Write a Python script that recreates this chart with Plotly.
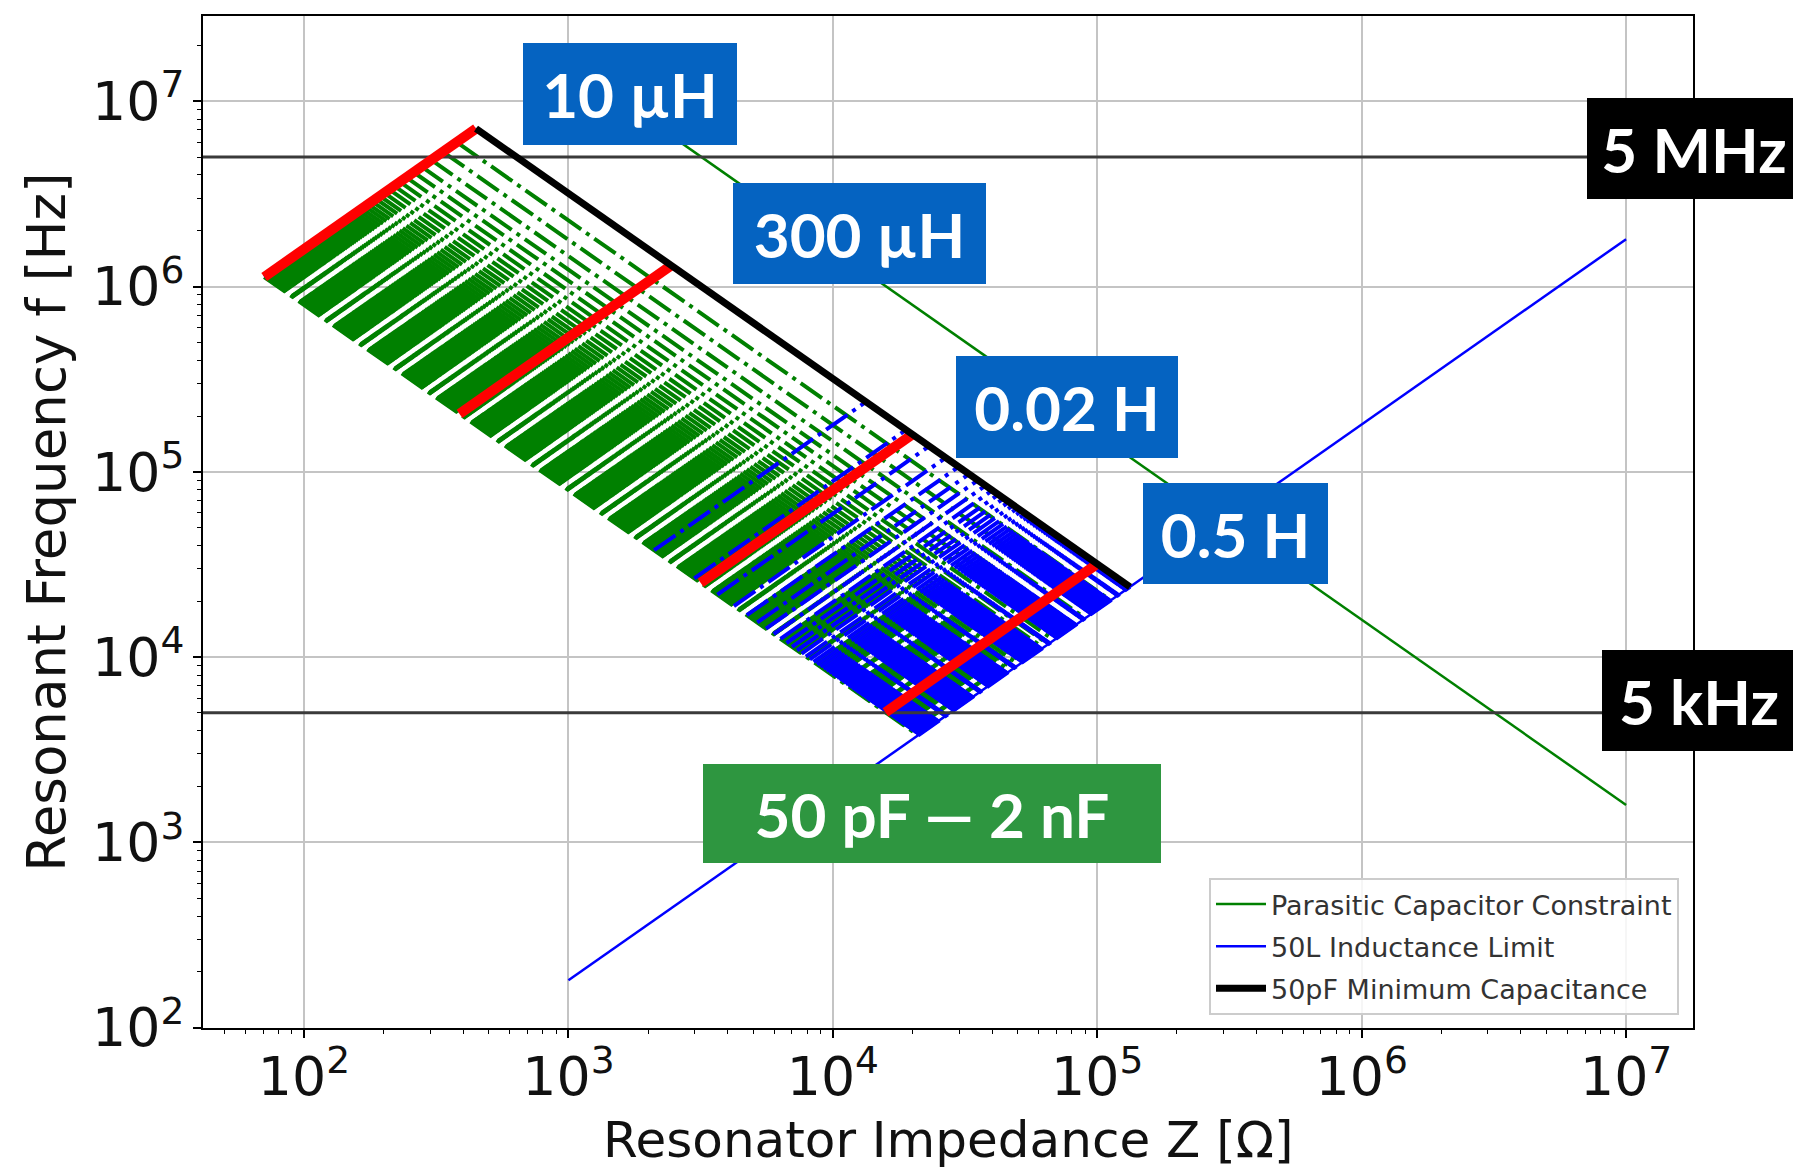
import math
import plotly.graph_objects as go

# ---------------- data ----------------
# capacitor sweep (pF), 50 pF to 2 nF
capacitance_sweep_pF = [50, 70, 89, 109, 129, 148, 168, 188, 208, 227, 247, 267, 286, 306, 326, 345,
                        365, 385, 405, 424, 444, 464, 483, 503, 523, 542, 562, 582, 602, 621, 641, 661,
                        680, 700, 720, 739, 759, 779, 798, 818, 838, 858, 877, 897, 917, 936, 956, 976,
                        995, 1015, 1035, 1055, 1074, 1094, 1114, 1133, 1153, 1173, 1192, 1212, 1232,
                        1252, 1271, 1291, 1311, 1330, 1350, 1370, 1389, 1409, 1429, 1448, 1468, 1488,
                        1508, 1527, 1547, 1567, 1586, 1606, 1626, 1645, 1665, 1685, 1705, 1724, 1744,
                        1764, 1783, 1803, 1823, 1842, 1862, 1882, 1902, 1921, 1941, 1961, 1980, 2000]
# inductor sweep (mH), 10 uH to the 50L inductance limit
inductance_sweep_mH = [0.01, 8.9, 17.9, 26.8, 35.7, 44.7, 53.6, 62.5, 71.4, 80.4, 89.3, 98.2, 107.2,
                       116.1, 125.0, 134.0, 142.9, 151.8, 160.7, 169.7, 178.6, 187.5, 196.5, 205.4,
                       214.3, 223.2, 232.2, 241.1, 250.0, 259.0, 267.9, 276.8, 285.8, 294.7, 303.6,
                       312.5, 321.5, 330.4, 339.3, 348.3, 357.2, 366.1, 375.0, 384.0, 392.9, 401.8,
                       410.8, 419.7, 428.6, 437.6, 446.5, 455.4, 464.3, 473.3, 482.2, 491.1, 500.1,
                       509.0, 517.9, 526.8, 535.8, 544.7, 553.6, 562.6, 571.5, 580.4, 589.3, 598.3,
                       607.2, 616.1, 625.1, 634.0, 642.9, 651.9, 660.8, 669.7, 678.6, 687.6, 696.5,
                       705.4, 714.4, 723.3, 732.2, 741.1, 750.1, 759.0, 767.9, 776.9, 785.8, 794.7,
                       803.7, 812.6, 821.5, 830.4, 839.4, 848.3, 857.2, 866.2, 875.1, 884.0]

marked_inductances_H = [10e-6, 300e-6, 0.02, 0.5]
marked_inductance_labels = ["10 µH", "300 µH", "0.02 H", "0.5 H"]
min_capacitance_F = 50e-12
max_capacitance_F = 2e-9
parasitic_capacitance_F = 10e-12
inductance_limit_H = 0.884
constraint_impedance_ohm = [1e3, 1e7]
frequency_limits_Hz = [5e6, 5e3]
frequency_limit_labels = ["5 MHz", "5 kHz"]
capacitance_range_label = "50 pF — 2 nF"
legend_names = ["Parasitic Capacitor Constraint", "50L Inductance Limit", "50pF Minimum Capacitance"]
x_title = "Resonator Impedance Z [Ω]"
y_title = "Resonant Frequency f [Hz]"

x_log_range = [1.618, 7.253]
y_log_range = [1.998, 7.46]


def impedance(L, C):
    return math.sqrt(L / C)


def resonance(L, C):
    return 1.0 / (2 * math.pi * math.sqrt(L * C))


C_list = [c * 1e-12 for c in capacitance_sweep_pF]
L_list = [l * 1e-3 for l in inductance_sweep_mH]

GREEN = "#008000"
BLUE = "#0000ff"
DASH = "26px,6px,4px,6px"
FIELD_W = 4

fig = go.Figure()

# constant-capacitance sweep lines (green, dash-dot)
for C in C_list:
    fig.add_trace(go.Scatter(
        x=[impedance(L, C) for L in L_list], y=[resonance(L, C) for L in L_list],
        mode="lines", line=dict(color=GREEN, width=FIELD_W, dash=DASH),
        showlegend=False, hoverinfo="skip"))

# constant-inductance sweep lines (blue, dash-dot)
for L in L_list:
    caps = C_list[::-1]
    fig.add_trace(go.Scatter(
        x=[impedance(L, C) for C in caps], y=[resonance(L, C) for C in caps],
        mode="lines", line=dict(color=BLUE, width=FIELD_W, dash=DASH),
        showlegend=False, hoverinfo="skip"))

# parasitic capacitor constraint
fig.add_trace(go.Scatter(
    x=constraint_impedance_ohm,
    y=[1.0 / (2 * math.pi * parasitic_capacitance_F * z) for z in constraint_impedance_ohm],
    mode="lines", line=dict(color=GREEN, width=2.5), name=legend_names[0], legendgroup="a"))

# 50L inductance limit
fig.add_trace(go.Scatter(
    x=constraint_impedance_ohm,
    y=[z / (2 * math.pi * inductance_limit_H) for z in constraint_impedance_ohm],
    mode="lines", line=dict(color=BLUE, width=2.5), name=legend_names[1], legendgroup="b"))

# frequency limits (horizontal)
for fl in frequency_limits_Hz:
    fig.add_trace(go.Scatter(
        x=[10 ** x_log_range[0], 10 ** x_log_range[1]], y=[fl, fl],
        mode="lines", line=dict(color="#3a3a3a", width=3),
        showlegend=False, hoverinfo="skip"))

# marked inductances (red)
for L in marked_inductances_H:
    caps = [max_capacitance_F, min_capacitance_F]
    fig.add_trace(go.Scatter(
        x=[impedance(L, C) for C in caps], y=[resonance(L, C) for C in caps],
        mode="lines", line=dict(color="#ff0000", width=10),
        showlegend=False, hoverinfo="skip"))

# 50 pF minimum capacitance
fig.add_trace(go.Scatter(
    x=[impedance(L, min_capacitance_F) for L in L_list],
    y=[resonance(L, min_capacitance_F) for L in L_list],
    mode="lines", line=dict(color="black", width=7), name=legend_names[2], legendgroup="c"))

# ---------------- layout ----------------
W, H = 1801, 1168
OFF = 8                      # page body margin shifts the figure by this much
PLOT_L, PLOT_R, PLOT_T, PLOT_B = 203, 1693, 14, 1028   # plot area in screen pixels
ML = PLOT_L - OFF
MT = PLOT_T - OFF
PW, PH = PLOT_R - PLOT_L, PLOT_B - PLOT_T
MR = W - ML - PW
MB = H - MT - PH


def px(x):
    return (x - PLOT_L) / PW


def py(y):
    return (PLOT_B - y) / PH


label_boxes = [
    # text, centre x, centre y, width, height, colour (screen pixels)
    (marked_inductance_labels[0], 630, 92, 214, 102, "#0563c1"),
    (marked_inductance_labels[1], 859, 232, 253, 101, "#0563c1"),
    (marked_inductance_labels[2], 1067, 406, 222, 102, "#0563c1"),
    (marked_inductance_labels[3], 1235, 533, 185, 101, "#0563c1"),
    (frequency_limit_labels[0], 1694, 147, 214, 101, "#000000"),
    (frequency_limit_labels[1], 1699, 700, 194, 101, "#000000"),
    (capacitance_range_label, 932, 813, 458, 99, "#2e9640"),
]
annotations = []
for text, cx, cy, bw, bh, col in label_boxes:
    annotations.append(dict(
        text=text, x=px(cx), y=py(cy), xref="paper", yref="paper",
        xanchor="center", yanchor="middle", showarrow=False,
        width=bw, height=bh, bgcolor=col, borderpad=0, borderwidth=0,
        align="center", valign="middle",
        font=dict(family="Lato", size=62, color="white", weight="bold")))

# x-axis title placed as a centred text just below the tick labels
annotations.append(dict(
    text=x_title, x=0.5, y=py(1140), xref="paper", yref="paper",
    xanchor="center", yanchor="middle", showarrow=False, borderpad=0,
    font=dict(family="DejaVu Sans", size=50, color="#111")))

axis_common = dict(
    type="log", showline=True, mirror=True, linecolor="black", linewidth=2,
    showgrid=True, gridcolor="#c4c4c4", gridwidth=1.5, zeroline=False,
    ticks="outside", ticklen=8, tickwidth=1.5, tickcolor="black",
    dtick=1, exponentformat="power", showexponent="all",
    tickfont=dict(family="DejaVu Sans", size=43, color="#111"),
    minor=dict(ticks="outside", ticklen=4, tickwidth=1.2, tickcolor="black",
               dtick="D1", showgrid=False),
)

fig.update_layout(
    width=W, height=H,
    margin=dict(l=ML, r=MR, t=MT, b=MB, pad=0),
    paper_bgcolor="white", plot_bgcolor="white",
    xaxis=dict(axis_common, range=x_log_range, ticklabelstandoff=-5),
    yaxis=dict(axis_common, range=y_log_range,
               title=dict(text=y_title, standoff=10,
                          font=dict(family="DejaVu Sans", size=53, color="#111"))),
    legend=dict(x=px(1679), y=py(1015), xanchor="right", yanchor="bottom",
                bgcolor="rgba(255,255,255,0.85)", bordercolor="#cccccc", borderwidth=2,
                font=dict(family="DejaVu Sans", size=27, color="#333"),
                traceorder="grouped", tracegroupgap=4, itemwidth=50),
    annotations=annotations,
    showlegend=True,
)

fig.write_html("out.html")
